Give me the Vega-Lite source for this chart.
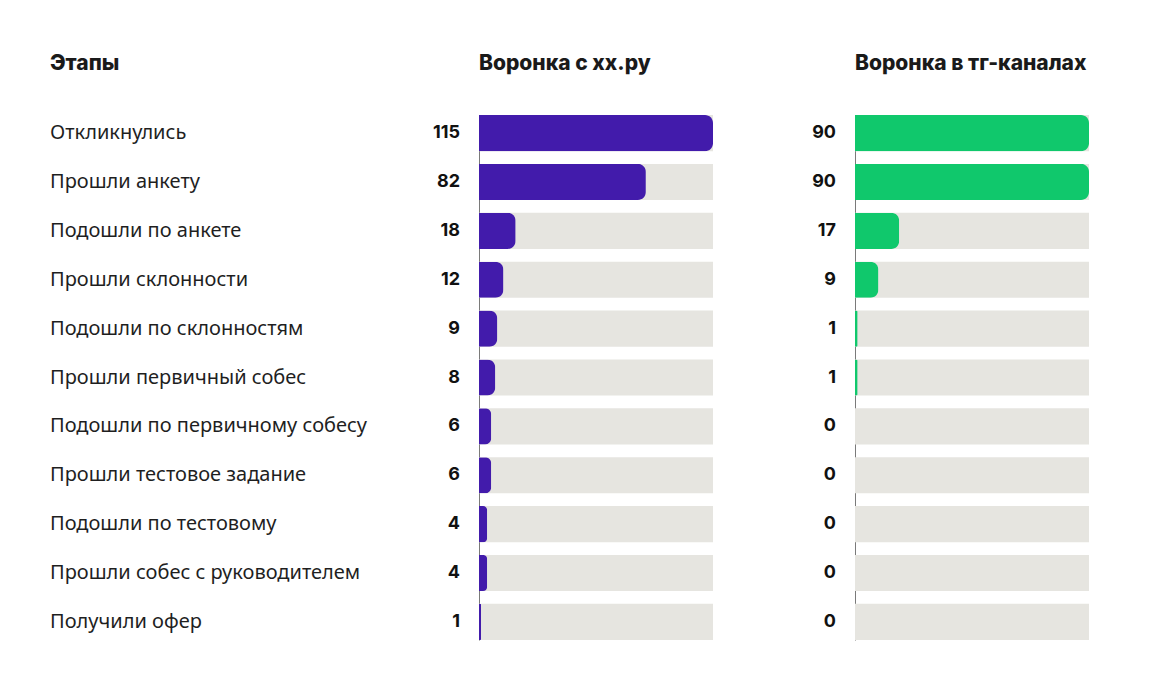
{
  "$schema": "https://vega.github.io/schema/vega-lite/v6.json",
  "background": "white",
  "padding": {"left": 50, "top": 53, "right": 10, "bottom": 10},
  "bounds": "flush",
  "spacing": 142,
  "config": {
    "view": {"stroke": null},
    "title": {"anchor": "start", "frame": "group", "font": "Inter", "fontSize": 21, "fontWeight": 800, "color": "#1a1a1a", "offset": 15}
  },
  "data": {"values": [
    {"stage": "Откликнулись", "order": 1, "hh": 115, "tg": 90},
    {"stage": "Прошли анкету", "order": 2, "hh": 82, "tg": 90},
    {"stage": "Подошли по анкете", "order": 3, "hh": 18, "tg": 17},
    {"stage": "Прошли склонности", "order": 4, "hh": 12, "tg": 9},
    {"stage": "Подошли по склонностям", "order": 5, "hh": 9, "tg": 1},
    {"stage": "Прошли первичный собес", "order": 6, "hh": 8, "tg": 1},
    {"stage": "Подошли по первичному собесу", "order": 7, "hh": 6, "tg": 0},
    {"stage": "Прошли тестовое задание", "order": 8, "hh": 6, "tg": 0},
    {"stage": "Подошли по тестовому", "order": 9, "hh": 4, "tg": 0},
    {"stage": "Прошли собес с руководителем", "order": 10, "hh": 4, "tg": 0},
    {"stage": "Получили офер", "order": 11, "hh": 1, "tg": 0}
  ]},
  "hconcat": [
    {
      "width": 287,
      "height": 551,
      "title": "Этапы",
      "mark": {"type": "text", "align": "left", "baseline": "middle", "dy": 0, "font": "Noto Sans", "fontSize": 20, "color": "#1f1f1f"},
      "encoding": {
        "y": {"field": "stage", "type": "nominal", "sort": {"field": "order"}, "axis": null,
              "scale": {"type": "band", "range": [26, 551], "paddingInner": 0.26, "paddingOuter": 0}},
        "x": {"value": 0},
        "text": {"field": "stage"}
      }
    },
    {
      "width": 234,
      "height": 551,
      "title": "Воронка с хх.ру",
      "encoding": {
        "y": {"field": "stage", "type": "nominal", "sort": {"field": "order"},
              "scale": {"type": "band", "range": [26, 551], "paddingInner": 0.26, "paddingOuter": 0},
              "axis": {"labels": false, "ticks": false, "title": null, "domainColor": "#7a7a7a", "domainWidth": 1}}
      },
      "layer": [
        {"mark": {"type": "bar", "color": "#e6e5e0"},
         "encoding": {"x": {"datum": 0, "type": "quantitative", "scale": {"domain": [0, 115], "nice": false}, "axis": null}, "x2": {"datum": 115}}},
        {"mark": {"type": "bar", "color": "#421bab", "cornerRadiusEnd": 8},
         "encoding": {"x": {"field": "hh", "type": "quantitative", "scale": {"domain": [0, 115], "nice": false}, "axis": null}}},
        {"mark": {"type": "text", "align": "right", "baseline": "middle", "dx": -19, "font": "Inter", "fontSize": 18, "fontWeight": 700, "color": "#111"},
         "encoding": {"x": {"datum": 0, "type": "quantitative"}, "text": {"field": "hh", "type": "quantitative"}}}
      ]
    },
    {
      "width": 234,
      "height": 551,
      "title": "Воронка в тг-каналах",
      "encoding": {
        "y": {"field": "stage", "type": "nominal", "sort": {"field": "order"},
              "scale": {"type": "band", "range": [26, 551], "paddingInner": 0.26, "paddingOuter": 0},
              "axis": {"labels": false, "ticks": false, "title": null, "domainColor": "#7a7a7a", "domainWidth": 1}}
      },
      "layer": [
        {"mark": {"type": "bar", "color": "#e6e5e0"},
         "encoding": {"x": {"datum": 0, "type": "quantitative", "scale": {"domain": [0, 90], "nice": false}, "axis": null}, "x2": {"datum": 90}}},
        {"mark": {"type": "bar", "color": "#10c86c", "cornerRadiusEnd": 8},
         "encoding": {"x": {"field": "tg", "type": "quantitative", "scale": {"domain": [0, 90], "nice": false}, "axis": null}}},
        {"mark": {"type": "text", "align": "right", "baseline": "middle", "dx": -19, "font": "Inter", "fontSize": 18, "fontWeight": 700, "color": "#111"},
         "encoding": {"x": {"datum": 0, "type": "quantitative"}, "text": {"field": "tg", "type": "quantitative"}}}
      ]
    }
  ]
}
